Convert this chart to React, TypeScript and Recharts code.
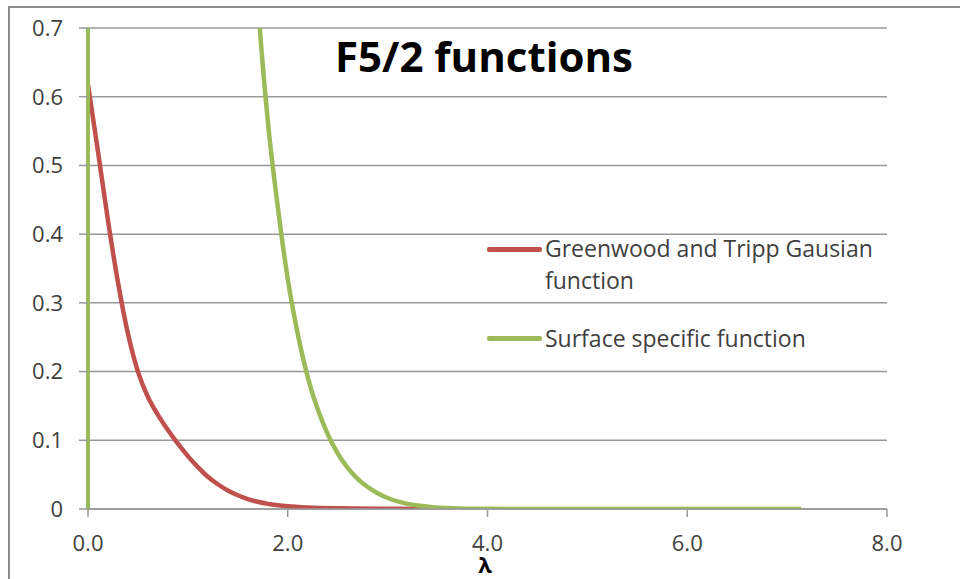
import { LineChart, Line, XAxis, YAxis, CartesianGrid } from 'recharts';

// lambda / value pairs
const greenwoodLambda = [0, 0.1, 0.2, 0.3, 0.4, 0.5, 0.6, 0.7, 0.8, 0.9, 1.0, 1.1, 1.2, 1.3, 1.4, 1.5, 1.6, 1.7, 1.8, 1.9, 2.0, 2.2, 2.5, 3.0, 3.5];
const greenwoodValue = [0.618, 0.52, 0.42, 0.33, 0.255, 0.2, 0.163, 0.137, 0.115, 0.095, 0.077, 0.061, 0.047, 0.036, 0.027, 0.02, 0.0145, 0.0105, 0.0075, 0.0055, 0.004, 0.0022, 0.001, 0.0003, 0];

const surfaceLambda = [1.55, 1.62, 1.72, 1.8, 1.9, 2.0, 2.1, 2.2, 2.3, 2.4, 2.5, 2.6, 2.7, 2.8, 2.9, 3.0, 3.1, 3.2, 3.3, 3.45, 3.6, 3.8, 4.0, 5.0, 6.0, 7.14];
const surfaceValue = [1.1, 0.92, 0.7, 0.565, 0.44, 0.335, 0.255, 0.192, 0.145, 0.109, 0.081, 0.06, 0.044, 0.032, 0.023, 0.016, 0.011, 0.0075, 0.005, 0.0026, 0.0013, 0.0005, 0.0002, 0, 0, 0];

// the surface function shoots straight up at lambda = 0
const surfaceSpikeLambda = [0, 0];
const surfaceSpikeValue = [0, 0.7];

const xTicks = [0, 2, 4, 6, 8];
const yTicks = [0, 0.1, 0.2, 0.3, 0.4, 0.5, 0.6, 0.7];

const seriesNames = ['Greenwood and Tripp Gausian function', 'Surface specific function'];
const RED = '#C0504D';
const GREEN = '#9BBB59';

const zip = (xs: number[], ys: number[]) => xs.map((x, i) => ({ x, y: ys[i] }));

const greenwood = zip(greenwoodLambda, greenwoodValue);
const surface = zip(surfaceLambda, surfaceValue);
const surfaceSpike = zip(surfaceSpikeLambda, surfaceSpikeValue);

const FONT = '"Open Sans", sans-serif';
const tickStyle = { fontSize: 22, fontFamily: FONT, fill: '#404040' };

export default function App() {
  return (
    <div style={{ position: 'absolute', left: 0, top: 0, width: 960, height: 579, background: '#fff', overflow: 'hidden' }}>
      <div
        style={{
          position: 'absolute',
          left: 8,
          top: 6,
          width: 1000,
          height: 600,
          borderTop: '2px solid #8c8c8c',
          borderLeft: '2px solid #8c8c8c',
        }}
      />
      <LineChart width={960} height={579} margin={{ top: 28, right: 73, bottom: 8, left: 0 }}>
        <CartesianGrid vertical={false} stroke="#999" strokeWidth={1.5} />
        <XAxis
          type="number"
          dataKey="x"
          domain={[0, 8]}
          ticks={xTicks}
          tickFormatter={(v: number) => v.toFixed(1)}
          height={62}
          tickSize={8}
          tickMargin={18}
          tick={tickStyle}
          stroke="#999"
          strokeWidth={1.5}
        />
        <YAxis
          type="number"
          domain={[0, 0.7]}
          ticks={yTicks}
          tickFormatter={(v: number) => (v === 0 ? '0' : v.toFixed(1))}
          width={88}
          tickSize={9}
          tickMargin={16}
          axisLine={false}
          tick={tickStyle}
          tickLine={{ stroke: '#999', strokeWidth: 1.5 }}
          allowDataOverflow
        />
        <YAxis yAxisId="spike" type="number" domain={[0, 0.7]} hide />
        <Line
          data={greenwood}
          dataKey="y"
          type="monotone"
          stroke={RED}
          strokeWidth={4.5}
          dot={false}
          name={seriesNames[0]}
          isAnimationActive={false}
        />
        <Line
          data={surfaceSpike}
          yAxisId="spike"
          dataKey="y"
          type="linear"
          stroke={GREEN}
          strokeWidth={4}
          dot={false}
          legendType="none"
          isAnimationActive={false}
        />
        <Line
          data={surface}
          dataKey="y"
          type="monotone"
          stroke={GREEN}
          strokeWidth={4.5}
          dot={false}
          name={seriesNames[1]}
          isAnimationActive={false}
        />
      </LineChart>

      <div style={{ position: 'absolute', left: 335, top: 35, fontFamily: FONT, fontWeight: 700, fontSize: 42, lineHeight: '42px', color: '#000', whiteSpace: 'nowrap' }}>
        F5/2 functions
      </div>

      <div style={{ position: 'absolute', left: 455, top: 553, width: 60, textAlign: 'center', fontFamily: FONT, fontWeight: 700, fontSize: 22, lineHeight: '22px', color: '#000' }}>
        λ
      </div>

      {/* legend inside the plot */}
      <div style={{ position: 'absolute', left: 487, top: 232, fontFamily: FONT, fontSize: 23, lineHeight: '32px', color: '#404040' }}>
        <div style={{ position: 'relative', paddingLeft: 58, width: 340 }}>
          <div style={{ position: 'absolute', left: 0, top: 15, width: 55, height: 4.5, background: RED, borderRadius: 2 }} />
          Greenwood and Tripp Gausian
          <br />
          function
        </div>
        <div style={{ position: 'relative', paddingLeft: 58, marginTop: 26, whiteSpace: 'nowrap' }}>
          <div style={{ position: 'absolute', left: 0, top: 14, width: 55, height: 4.5, background: GREEN, borderRadius: 2 }} />
          {seriesNames[1]}
        </div>
      </div>
    </div>
  );
}
